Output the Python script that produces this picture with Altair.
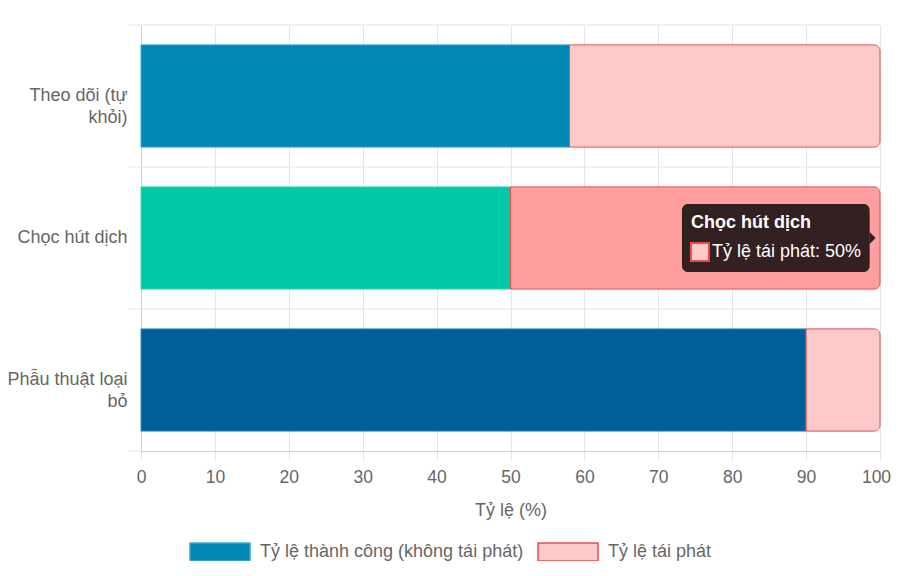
import json
import altair as alt
import pandas as pd

categories = ["Theo dõi (tự khỏi)", "Chọc hút dịch", "Phẫu thuật loại bỏ"]
success = [58, 50, 90]
recurrence = [42, 50, 10]
label_lines = [["Theo dõi (tự", "khỏi)"], ["Chọc hút dịch"], ["Phẫu thuật loại", "bỏ"]]
series_names = ["Tỷ lệ thành công (không tái phát)", "Tỷ lệ tái phát"]
x_ticks = [0, 10, 20, 30, 40, 50, 60, 70, 80, 90, 100]

hovered = "Chọc hút dịch"
tooltip_title = "Chọc hút dịch"
tooltip_body = "Tỷ lệ tái phát: 50%"

# styles
success_fill = ["#0088b4", "#00c9a7", "#00609c"]
success_stroke = ["#3fa6c9", "#40d7bd", "#3f8ab8"]
recur_fill = "#ffc9c9"
recur_stroke = "#e84d4d"
hover_fill = "#ff9e9e"
grid_color = "#e5e5e5"
text_color = "#666666"
FONT = "Liberation Sans"
FS = 18
W, H = 739, 426
TIP_X0, TIP_X1 = 73.2, 98.6

keys_success = [series_names[0]] + [f"{series_names[0]} | {c}" for c in categories[1:]]
rows = []
for i, c in enumerate(categories):
    rows.append(dict(cat=c, key=keys_success[i], start=0, end=success[i], part="s"))
    rows.append(dict(cat=c, key=series_names[1], start=success[i],
                     end=success[i] + recurrence[i], part="r"))
df = pd.DataFrame(rows)

domain = keys_success + [series_names[1]]
fill_scale = alt.Scale(domain=domain, range=success_fill + [recur_fill])
stroke_scale = alt.Scale(domain=domain, range=success_stroke + [recur_stroke])

label_expr = ""
for c, lines in zip(categories[:-1], label_lines[:-1]):
    label_expr += f"datum.value == {json.dumps(c, ensure_ascii=False)} ? {json.dumps(lines, ensure_ascii=False)} : "
label_expr += json.dumps(label_lines[-1], ensure_ascii=False)

y_enc = alt.Y(
    "cat:N", sort=categories, title=None,
    scale=alt.Scale(domain=categories, paddingInner=0, paddingOuter=0),
    axis=alt.Axis(labelExpr=label_expr, labelFontSize=FS, labelColor=text_color,
                  labelFont=FONT, labelLineHeight=22, ticks=False, tickSize=0,
                  labelPadding=14, grid=False, domain=True, domainColor="#d0d0d0",
                  labelLimit=200),
)
x_enc = alt.X(
    "start:Q", title="Tỷ lệ (%)",
    scale=alt.Scale(domain=[0, 100], nice=False),
    axis=alt.Axis(values=x_ticks, labelFontSize=17.5, labelColor=text_color, labelFont=FONT,
                  labelFlush=False,
                  labelOffset={"condition": {"test": f"datum.value == {x_ticks[-1]}", "value": -4},
                               "value": 0},
                  titleFontSize=FS, titleColor=text_color, titleFont=FONT,
                  titleFontWeight="normal", titlePadding=16,
                  grid=True, gridColor=grid_color, tickColor=grid_color, tickSize=9,
                  labelPadding=8, domainColor="#d0d0d0"),
)

base = alt.Chart(df)

grid_df = pd.DataFrame({"cat": categories})
grid_rules = alt.Chart(grid_df).mark_rule(color=grid_color, strokeWidth=1).encode(
    y=alt.Y("cat:N", sort=categories, bandPosition=0),
    x=alt.value(-12), x2=alt.value(W),
)
bottom_rule = alt.Chart(grid_df.head(1)).mark_rule(color=grid_color, strokeWidth=1).encode(
    y=alt.value(H), x=alt.value(-12), x2=alt.value(0),
)

legend = alt.Legend(
    values=series_names, title=None, orient="none", direction="horizontal",
    legendX=48, legendY=496, symbolType="M-1,-0.3H1V0.3H-1Z", symbolSize=3600,
    symbolStrokeWidth=1.5, labelFontSize=FS, labelColor=text_color, labelFont=FONT,
    labelOffset=9, columnPadding=11, padding=0, labelLimit=500,
)

success_bars = base.transform_filter("datum.part == 's'").mark_bar(
    height={"band": 0.72}, strokeWidth=1
).encode(
    y=y_enc, x=x_enc, x2="end:Q",
    fill=alt.Fill("key:N", scale=fill_scale, legend=legend),
    stroke=alt.Stroke("key:N", scale=stroke_scale, legend=legend),
)

recur_bars = base.transform_filter("datum.part == 'r'").mark_bar(
    height={"band": 0.72}, strokeWidth=1, cornerRadiusTopRight=6, cornerRadiusBottomRight=6
).encode(
    y=alt.Y("cat:N", sort=categories), x=alt.X("start:Q"), x2="end:Q",
    fill=alt.condition(f"datum.cat == {json.dumps(hovered, ensure_ascii=False)}",
                       alt.value(hover_fill),
                       alt.Fill("key:N", scale=fill_scale, legend=legend)),
    stroke=alt.Stroke("key:N", scale=stroke_scale, legend=legend),
)

tip_df = pd.DataFrame({"cat": [hovered], "x0": [TIP_X0], "x1": [TIP_X1],
                       "title": [tooltip_title], "body": [tooltip_body]})
tip = alt.Chart(tip_df)
tip_box = tip.mark_bar(size=68, cornerRadius=6, fill="black", fillOpacity=0.8).encode(
    y=alt.Y("cat:N", sort=categories), x="x0:Q", x2="x1:Q")
tip_arrow = tip.mark_point(shape="M0,-1L1,0L0,1Z", size=144, filled=True, fill="black",
                           fillOpacity=0.8, strokeWidth=0, opacity=1).encode(
    y=alt.Y("cat:N", sort=categories), x="x1:Q")
tip_title = tip.mark_text(align="left", baseline="middle", dx=9, dy=-15, fontSize=FS,
                          fontWeight="bold", color="white", font=FONT).encode(
    y=alt.Y("cat:N", sort=categories), x="x0:Q", text="title:N")
tip_swatch = tip.mark_point(shape="M1,0.556H3V2.556H1Z", size=324, filled=True,
                            fill=recur_fill, stroke=recur_stroke, strokeWidth=2,
                            opacity=1).encode(
    y=alt.Y("cat:N", sort=categories), x="x0:Q")
tip_body = tip.mark_text(align="left", baseline="middle", dx=30, dy=14, fontSize=FS,
                         color="white", font=FONT).encode(
    y=alt.Y("cat:N", sort=categories), x="x0:Q", text="body:N")

chart = alt.layer(
    grid_rules, bottom_rule, success_bars, recur_bars,
    tip_box, tip_arrow, tip_title, tip_swatch, tip_body,
).properties(
    width=W, height=H,
    autosize=alt.AutoSizeParams(type="none"),
    padding={"left": 133, "top": 17, "right": 12, "bottom": 110},
).configure_view(stroke=None)

chart.save("out.html", embed_options={"renderer": "svg", "actions": False})
